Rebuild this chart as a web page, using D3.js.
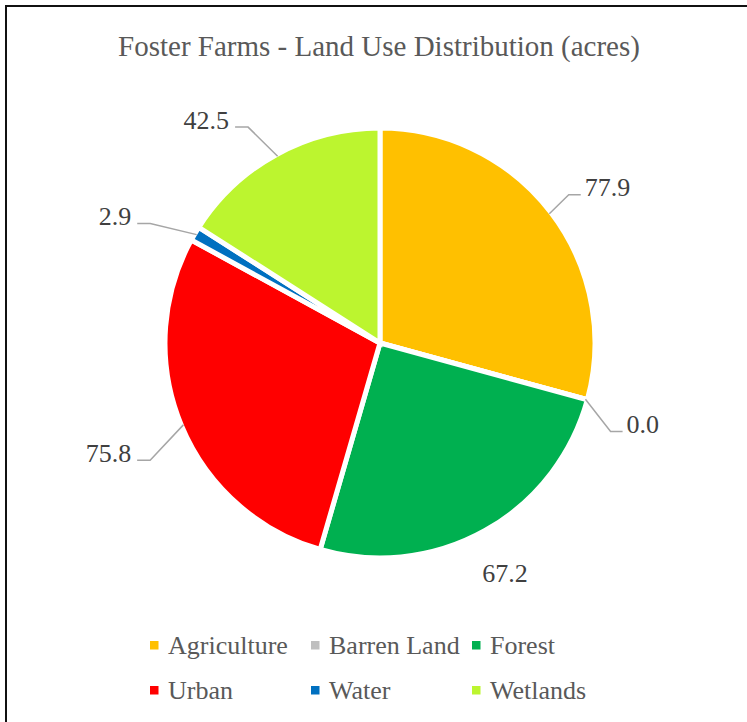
<!DOCTYPE html>
<html>
<head>
<meta charset="utf-8">
<script src="https://cdn.jsdelivr.net/npm/d3@7"></script>
<style>
  html, body { margin: 0; padding: 0; background: #fff; }
  svg { display: block; }
  text { font-family: "Liberation Serif", "Times New Roman", Tinos, serif; }
</style>
</head>
<body>
<svg id="chart" width="747" height="722"></svg>
<script>
// ---- data ----
const title = "Foster Farms - Land Use Distribution (acres)";
const categories = ["Agriculture", "Barren Land", "Forest", "Urban", "Water", "Wetlands"];
const values = [77.9, 0.0, 67.2, 75.8, 2.9, 42.5];
const colors = ["#FFC000", "#BFBFBF", "#00B050", "#FF0000", "#0070C0", "#BCF52F"];

// ---- layout (label placement tweaks, degrees / px) ----
const labelAngleShift = [-0.8, 5.7, 0.8, -4.4, -3.1, -2.7];
const labelRadius = [240, 247, 262, 258, 259, 253];
const leaderShown = [true, true, false, true, true, true];

const W = 747, H = 722;
const cx = 380, cy = 343, R = 215;
const svg = d3.select("#chart");

// border
svg.append("rect").attr("x", 6).attr("y", 6).attr("width", W + 20).attr("height", H + 20)
  .attr("fill", "#fff").attr("stroke", "#111").attr("stroke-width", 2);

// title
svg.append("text").attr("x", 379).attr("y", 56).attr("text-anchor", "middle")
  .attr("font-size", 29)
  .attr("fill", "#595959").text(title);

const data = categories.map((c, i) => ({ name: c, value: values[i], color: colors[i] }));
const pie = d3.pie().value(d => d.value).sort(null).startAngle(0).endAngle(2 * Math.PI);
const arcs = pie(data);
const arc = d3.arc().innerRadius(0).outerRadius(R);

const g = svg.append("g").attr("transform", `translate(${cx},${cy})`);
g.selectAll("path.slice").data(arcs).enter().append("path")
  .attr("class", "slice")
  .attr("d", arc)
  .attr("fill", d => d.data.color)
  .attr("stroke", "#fff").attr("stroke-width", 5).attr("stroke-linejoin", "miter");

function polar(angleRad, r) { return [r * Math.sin(angleRad), -r * Math.cos(angleRad)]; }
const fmt = d3.format(".1f");

arcs.forEach((d, i) => {
  const mid = (d.startAngle + d.endAngle) / 2;
  const la = mid + labelAngleShift[i] * Math.PI / 180;
  const elbow = polar(la, labelRadius[i]);
  const right = elbow[0] >= 0;
  if (leaderShown[i]) {
    const edge = polar(mid, R - 2);
    const end = [elbow[0] + (right ? 12 : -13), elbow[1]];
    g.append("polyline")
      .attr("points", [edge, elbow, end].map(p => p.join(",")).join(" "))
      .attr("fill", "none").attr("stroke", "#A6A6A6").attr("stroke-width", 1.5);
    g.append("text")
      .attr("x", end[0] + (right ? 4 : -6)).attr("y", elbow[1] - 7.5)
      .attr("dy", "0.35em")
      .attr("text-anchor", right ? "start" : "end")
      .attr("font-size", 26)
      .attr("fill", "#404040").text(fmt(d.data.value));
  } else {
    g.append("text")
      .attr("x", elbow[0]).attr("y", elbow[1])
      .attr("dy", "0.35em").attr("text-anchor", "middle")
      .attr("font-size", 26)
      .attr("fill", "#404040").text(fmt(d.data.value));
  }
});

// legend
const legX = [150, 311, 472];
const legY = [645, 690];
const leg = svg.append("g");
data.forEach((d, i) => {
  const col = i % 3, row = Math.floor(i / 3);
  leg.append("rect").attr("x", legX[col]).attr("y", legY[row] - 4).attr("width", 8.5).attr("height", 8.5)
    .attr("fill", d.color);
  leg.append("text").attr("x", legX[col] + 18).attr("y", legY[row]).attr("dy", "0.35em")
    .attr("font-size", 26)
    .attr("fill", "#595959").text(d.name);
});
</script>
</body>
</html>
